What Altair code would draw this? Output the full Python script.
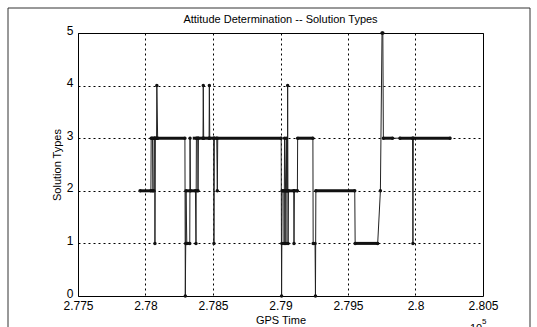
import altair as alt
import pandas as pd

# Solution type samples (GPS time in units of 1e5 s)
t = [2.77960, 2.78040, 2.78042, 2.78052, 2.78054, 2.78062, 2.78064, 2.78068, 2.78070, 2.78073,
     2.78082, 2.78084, 2.78090, 2.78292, 2.78295, 2.78298, 2.78300, 2.78306, 2.78328, 2.78330,
     2.78333, 2.78370, 2.78374, 2.78377, 2.78387, 2.78389, 2.78392, 2.78426, 2.78428, 2.78431,
     2.78471, 2.78473, 2.78476, 2.78505, 2.78507, 2.78510, 2.78528, 2.78532, 2.78535, 2.79005,
     2.79008, 2.79010, 2.79012, 2.79025, 2.79027, 2.79030, 2.79038, 2.79040, 2.79043, 2.79046,
     2.79051, 2.79053, 2.79056, 2.79059, 2.79098, 2.79100, 2.79103, 2.79125, 2.79127, 2.79240,
     2.79242, 2.79256, 2.79259, 2.79262, 2.79550, 2.79553, 2.79720, 2.79740, 2.79752, 2.79758,
     2.79762, 2.79830, 2.79885, 2.79978, 2.79981, 2.79984, 2.80256]
v = [2, 2, 3, 3, 2, 2, 3, 3, 1, 3,
     3, 4, 3, 3, 0, 1, 2, 1, 1, 3,
     2, 2, 1, 3, 3, 2, 3, 3, 4, 3,
     3, 4, 3, 3, 1, 3, 3, 2, 3, 3,
     0, 1, 2, 2, 1, 3, 2, 1, 3, 2,
     2, 4, 1, 2, 2, 1, 2, 2, 3, 3,
     1, 1, 0, 2, 2, 1, 1, 2, 5, 5,
     3, 3, 3, 3, 1, 3, 3]

# Dense runs of samples (drawn thick)
run_start = [2.7796, 2.7804, 2.7830, 2.7830, 2.7835, 2.7854, 2.7901, 2.7913, 2.7926, 2.7955, 2.7976, 2.7988]
run_end   = [2.7806, 2.7829, 2.7839, 2.7833, 2.7853, 2.7901, 2.7913, 2.7924, 2.7955, 2.7972, 2.7983, 2.8026]
run_val   = [2, 3, 2, 1, 3, 3, 2, 3, 2, 1, 3, 3]

x_ticks = [2.775, 2.78, 2.785, 2.79, 2.795, 2.8, 2.805]
y_ticks = [0, 1, 2, 3, 4, 5]

title_text = "Attitude Determination -- Solution Types"

df = pd.DataFrame({"t": t, "v": v, "i": list(range(len(t)))})
runs = pd.DataFrame({"s": run_start, "e": run_end, "v": run_val})

FONT = "Liberation Sans"
xscale = alt.Scale(domain=[2.775, 2.805], nice=False, zero=False)
yscale = alt.Scale(domain=[0, 5], nice=False)

xaxis = alt.Axis(values=x_ticks, format=".3~f", title="GPS Time", grid=True,
                 gridDash=[2, 3], gridColor="black", gridOpacity=1, gridWidth=1,
                 ticks=False, domain=False, labelFontSize=12, labelColor="black",
                 labelFont=FONT, titleFont=FONT, titleFontSize=11,
                 titleFontWeight="normal", titleColor="black",
                 labelPadding=4, titlePadding=3, labelFlush=False)
yaxis = alt.Axis(values=y_ticks, format="d", title="Solution Types", grid=True,
                 gridDash=[2, 3], gridColor="black", gridOpacity=1, gridWidth=1,
                 ticks=False, domain=False, labelFontSize=12, labelColor="black",
                 labelFont=FONT, titleFont=FONT, titleFontSize=11,
                 titleFontWeight="normal", titleColor="black",
                 labelPadding=5, titlePadding=4, labelFlush=False, labelOffset=-3)

one = pd.DataFrame({"a": [0]})

frame = alt.Chart(one).mark_rect(
    fillOpacity=0, stroke="#333", strokeWidth=1
).encode(x=alt.value(-70), x2=alt.value(452), y=alt.value(-25), y2=alt.value(330))

title = alt.Chart(one).mark_text(
    text=title_text, font=FONT, fontSize=11, align="center", baseline="middle", color="black"
).encode(x=alt.value(202.5), y=alt.value(-13))

line = alt.Chart(df).mark_line(color="#222", strokeWidth=1).encode(
    x=alt.X("t:Q", scale=xscale, axis=xaxis),
    y=alt.Y("v:Q", scale=yscale, axis=yaxis),
    order="i:Q",
)
pts = alt.Chart(df).mark_circle(size=12, color="#111", opacity=1).encode(
    x=alt.X("t:Q", scale=xscale), y=alt.Y("v:Q", scale=yscale)
)
thick = alt.Chart(runs).mark_rule(strokeWidth=3, color="#111").encode(
    x=alt.X("s:Q", scale=xscale), x2="e:Q", y=alt.Y("v:Q", scale=yscale)
)
exp10 = alt.Chart(one).mark_text(
    text="10", font=FONT, fontSize=11, align="left", baseline="top", color="black"
).encode(x=alt.value(392), y=alt.value(290))
exp5 = alt.Chart(one).mark_text(
    text="5", font=FONT, fontSize=8, align="left", baseline="top", color="black"
).encode(x=alt.value(404), y=alt.value(285))

chart = alt.layer(frame, title, line, thick, pts, exp10, exp5).properties(
    width=405, height=263,
    autosize="none",
    padding={"left": 78, "top": 33, "right": 54, "bottom": 31},
    background="white",
).configure_view(stroke="black", strokeWidth=1)

chart.save("out.html", embed_options={"renderer": "svg", "actions": False})
